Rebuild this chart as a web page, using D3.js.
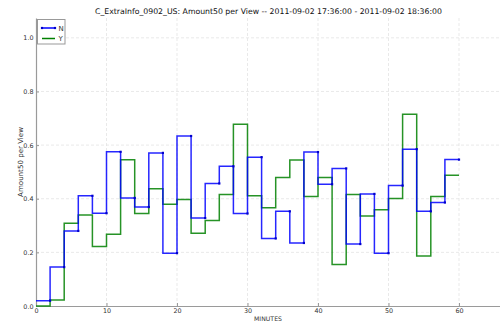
<!DOCTYPE html>
<html>
<head>
<meta charset="utf-8">
<script src="https://cdn.jsdelivr.net/npm/d3@7"></script>
<style>
  html, body { margin: 0; padding: 0; background: #fff; }
  svg { display: block; font-family: "DejaVu Sans", sans-serif; }
</style>
</head>
<body>
<svg id="chart" width="500" height="326"></svg>
<script>
// End minute of each 2-minute bucket
const minutes = [2, 4, 6, 8, 10, 12, 14, 16, 18, 20, 22, 24, 26, 28, 30,
                 32, 34, 36, 38, 40, 42, 44, 46, 48, 50, 52, 54, 56, 58, 60];

// Amount50 per View, series N
const valuesN = [0.020, 0.145, 0.280, 0.411, 0.346, 0.575, 0.403, 0.369, 0.571, 0.197,
                 0.634, 0.328, 0.457, 0.521, 0.345, 0.555, 0.252, 0.353, 0.235, 0.574,
                 0.454, 0.513, 0.231, 0.418, 0.197, 0.449, 0.585, 0.353, 0.386, 0.546];

// Amount50 per View, series Y
const valuesY = [0.000, 0.022, 0.309, 0.339, 0.222, 0.268, 0.545, 0.345, 0.437, 0.379,
                 0.397, 0.271, 0.319, 0.416, 0.678, 0.411, 0.366, 0.479, 0.544, 0.408,
                 0.479, 0.155, 0.416, 0.336, 0.359, 0.401, 0.715, 0.186, 0.408, 0.488];

const xTicks = [0, 10, 20, 30, 40, 50, 60];
const yTicks = [0.0, 0.2, 0.4, 0.6, 0.8, 1.0];

const seriesNames = ["N", "Y"];
const seriesColors = ["#0000ff", "#008000"];

const svg = d3.select("#chart");
const plotLeft = 36, plotRight = 501.3, plotTop = 18, plotBottom = 306;

const x = d3.scaleLinear().domain([0, 66]).range([plotLeft, plotRight]);
const y = d3.scaleLinear().domain([0, 1.074]).range([plotBottom, plotTop]);

// shrink/grow a text's font size so it spans the given width
function fitWidth(sel, width) {
  const node = sel.node();
  const fs = parseFloat(sel.attr("font-size"));
  const w = node.getComputedTextLength();
  if (w > 0) sel.attr("font-size", (fs * width / w).toFixed(2));
  return sel;
}

// grid
const grid = svg.append("g").attr("stroke", "#e3e3e3").attr("stroke-dasharray", "3,2").attr("stroke-width", 0.8);
grid.selectAll("line.v").data(xTicks.filter(d => d > 0)).join("line")
  .attr("x1", d => x(d)).attr("x2", d => x(d)).attr("y1", plotTop).attr("y2", plotBottom);
grid.selectAll("line.h").data(yTicks.filter(d => d > 0)).join("line")
  .attr("x1", plotLeft).attr("x2", plotRight).attr("y1", d => y(d)).attr("y2", d => y(d));

// axes (ticks drawn inward)
const xAxis = d3.axisBottom(x).tickValues(xTicks).tickFormat(d3.format("d")).tickSizeInner(-3).tickSizeOuter(0).tickPadding(2.5);
const yAxis = d3.axisLeft(y).tickValues(yTicks).tickFormat(d3.format(".1f")).tickSizeInner(-3).tickSizeOuter(0).tickPadding(2.5);

const gx = svg.append("g").attr("transform", `translate(0,${plotBottom})`).call(xAxis);
const gy = svg.append("g").attr("transform", `translate(${plotLeft},0)`).call(yAxis);
[gx, gy].forEach(g => {
  g.attr("font-size", null).attr("font-family", null);
  g.select(".domain").attr("stroke", "#9a9a9a").attr("stroke-width", 1.2);
  g.selectAll(".tick line").attr("stroke", "#9a9a9a");
  g.selectAll(".tick text").attr("fill", "#333").attr("font-size", 6.4).attr("font-family", "DejaVu Sans, sans-serif");
});

// step series
const line = d3.line().x(d => x(d[0])).y(d => y(d[1])).curve(d3.curveStepBefore);
function stepPoints(vals) {
  const pts = minutes.map((m, i) => [m, vals[i]]);
  return [[0, vals[0]], ...pts];
}

const plot = svg.append("g");
plot.append("path").datum(stepPoints(valuesY))
  .attr("fill", "none").attr("stroke", seriesColors[1]).attr("stroke-width", 1.5).attr("stroke-opacity", 0.85)
  .attr("d", line);
plot.append("path").datum(stepPoints(valuesN))
  .attr("fill", "none").attr("stroke", seriesColors[0]).attr("stroke-width", 1.5).attr("stroke-opacity", 0.85)
  .attr("d", line);
plot.selectAll("rect.dotN").data(minutes.map((m, i) => [m, valuesN[i]])).join("rect")
  .attr("x", d => x(d[0]) - 1.1).attr("y", d => y(d[1]) - 1.1)
  .attr("width", 2.2).attr("height", 2.2).attr("fill", "#0000cc");

// title and axis labels
fitWidth(svg.append("text").attr("x", 268.5).attr("y", 14).attr("text-anchor", "middle")
  .attr("font-size", 8).attr("fill", "#111")
  .text("C_ExtraInfo_0902_US:  Amount50 per View -- 2011-09-02 17:36:00 - 2011-09-02 18:36:00"), 347);
fitWidth(svg.append("text").attr("x", 268).attr("y", 320.5).attr("text-anchor", "middle")
  .attr("font-size", 6.5).attr("fill", "#333").text("MINUTES"), 28);
fitWidth(svg.append("text").attr("transform", "translate(23,162) rotate(-90)").attr("text-anchor", "middle")
  .attr("font-size", 7).attr("fill", "#333").text("Amount50 per View"), 70);

// legend
const lg = svg.append("g");
lg.append("rect").attr("x", 37.5).attr("y", 19.5).attr("width", 27.5).attr("height", 24.5)
  .attr("fill", "#fff").attr("stroke", "#999").attr("stroke-width", 1);
seriesNames.forEach((name, i) => {
  const ly = 28 + i * 10.5;
  lg.append("line").attr("x1", 42).attr("x2", 55).attr("y1", ly).attr("y2", ly)
    .attr("stroke", seriesColors[i]).attr("stroke-width", 1.5);
  if (i === 0) {
    [42, 55].forEach(px => lg.append("rect").attr("x", px - 1.1).attr("y", ly - 1.1)
      .attr("width", 2.2).attr("height", 2.2).attr("fill", "#0000cc"));
  }
  lg.append("text").attr("x", 58.5).attr("y", ly + 2.5).attr("font-size", 7).attr("fill", "#333").text(name);
});
</script>
</body>
</html>
